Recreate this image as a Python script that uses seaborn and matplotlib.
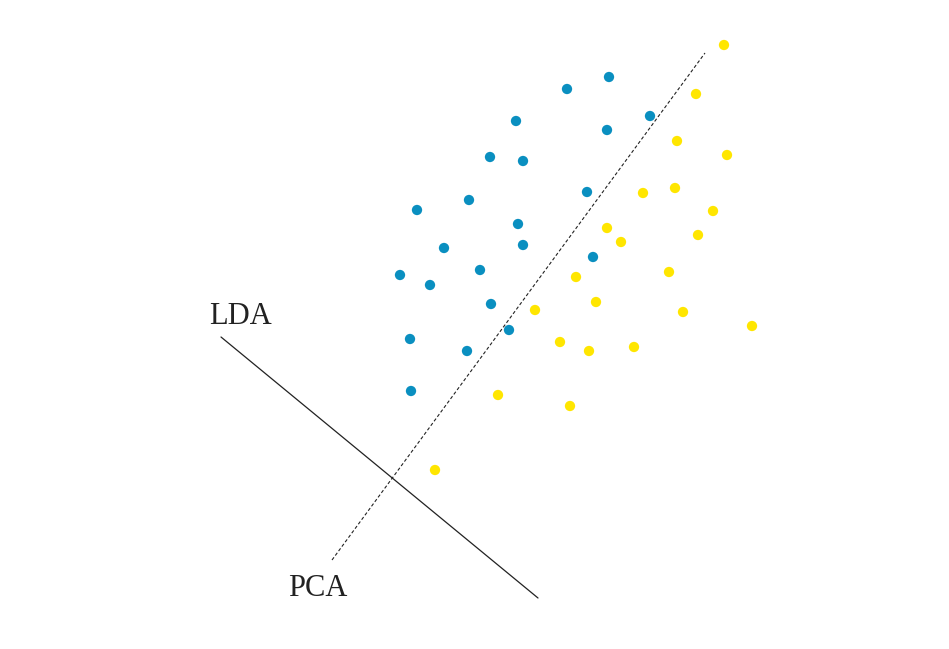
import matplotlib
matplotlib.use("Agg")
import matplotlib.pyplot as plt
import seaborn as sns
import pandas as pd

# point positions (image coordinates, y down)
blue_x = [609, 567, 650, 516, 607, 490, 523, 587, 469, 417, 518, 444, 523, 593, 400, 480, 430, 491, 509, 410, 467, 411]
blue_y = [77, 89, 116, 121, 130, 157, 161, 192, 200, 210, 224, 248, 245, 257, 275, 270, 285, 304, 330, 339, 351, 391]
yellow_x = [724, 696, 677, 727, 643, 675, 713, 607, 698, 621, 669, 576, 596, 535, 683, 752, 560, 589, 634, 498, 570, 435]
yellow_y = [45, 94, 141, 155, 193, 188, 211, 228, 235, 242, 272, 277, 302, 310, 312, 326, 342, 351, 347, 395, 406, 470]

lda_x = [221, 538]
lda_y = [337, 598]
pca_x = [332, 705]
pca_y = [560, 53]

df = pd.DataFrame({
    "x": blue_x + yellow_x,
    "y": blue_y + yellow_y,
    "cls": ["a"] * len(blue_x) + ["b"] * len(yellow_x),
})

sns.set_style("white")
fig = plt.figure(figsize=(9.49, 6.49), dpi=100)
ax = fig.add_axes([0, 0, 1, 1])

ax.plot(lda_x, lda_y, color="#222222", lw=0.9)
ax.plot(pca_x, pca_y, color="#222222", lw=0.8, ls=(0, (3, 2)))

sns.scatterplot(data=df, x="x", y="y", hue="cls",
                palette={"a": "#0a8fc0", "b": "#ffe600"},
                s=55, edgecolor="none", legend=False, ax=ax)

ax.text(241, 316, "LDA", fontsize=22, family="Liberation Serif", ha="center", va="center", color="#222222")
ax.text(318, 588, "PCA", fontsize=22, family="Liberation Serif", ha="center", va="center", color="#222222")

ax.set_xlim(0, 949)
ax.set_ylim(649, 0)
ax.axis("off")
fig.savefig("out.png", dpi=100)
